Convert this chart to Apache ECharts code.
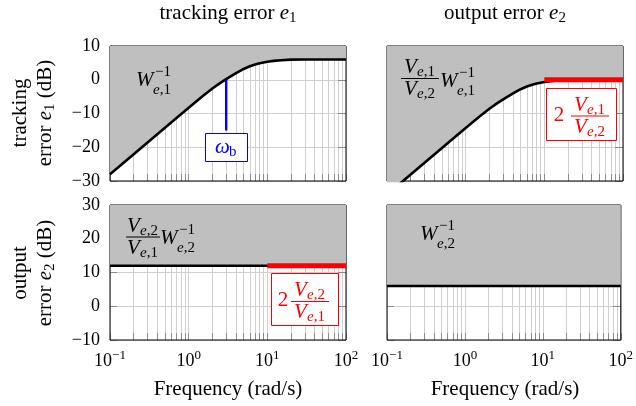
<!DOCTYPE html>
<html>
<head>
<meta charset="utf-8">
<script src="https://cdn.jsdelivr.net/npm/echarts@6/dist/echarts.min.js"></script>
<style>
  html, body { margin: 0; padding: 0; background: #fff; }
  #chart { width: 636px; height: 406px; }
</style>
</head>
<body>
<div id="chart"></div>
<script>
// frequency samples (rad/s)
const FREQ = [0.1, 0.2, 0.3, 0.5, 0.7, 1, 1.5, 2, 2.5, 3, 3.5, 4, 5, 6, 7, 8, 10, 12, 15, 20, 30, 50, 100];
// W_e,1^-1 (dB), top left
const W1_DB = [-28, -22.1, -18.6, -14.2, -11.3, -8.3, -4.9, -2.6, -1.0, 0.2, 1.15, 1.95, 3.2, 4.0, 4.5, 4.9, 5.35, 5.6, 5.8, 5.95, 6, 6, 6];
// Ve1/Ve2 * W_e,1^-1 (dB), top right
const W1_SCALED_DB = [-34, -28.1, -24.6, -20.2, -17.3, -14.3, -10.9, -8.6, -7.0, -5.8, -4.85, -4.05, -2.8, -2.0, -1.5, -1.1, -0.65, -0.4, -0.2, -0.05, 0, 0, 0];
// flat weights, bottom row
const FLAT_FREQ = [0.1, 100];
const W2_SCALED_DB = [12, 12];
const W2_DB = [6, 6];
// red limits 2*Ve1/Ve2 and 2*Ve2/Ve1
const RED_FREQ = [10, 100];
const RED_TOP_DB = [0, 0];
const RED_BOTTOM_DB = [12, 12];
// omega_b marker
const WB_FREQ = [3.0, 3.0];
const WB_DB = [0, -15];

const MINOR = [0.2, 0.3, 0.4, 0.5, 0.6, 0.7, 0.8, 0.9, 2, 3, 4, 5, 6, 7, 8, 9, 20, 30, 40, 50, 60, 70, 80, 90];

const FONT = '"Liberation Serif", "DejaVu Serif", serif';
const FS = 21;      // titles, names, math
const TICK_FS = 18; // tick labels
const SUB_FS = 15;
const GRAY = '#bfbfbf';
const GRID_C = '#cfcfcf';
const TICK_C = '#8c8c8c';

const grids = [
  { left: 110, top: 46, width: 236, height: 135 },
  { left: 387, top: 46, width: 236, height: 135 },
  { left: 110, top: 205, width: 236, height: 135 },
  { left: 387, top: 205, width: 236, height: 135 }
];
const yRanges = [[-30, 10], [-30, 10], [-10, 30], [-10, 30]];

function pairs(xs, ys) {
  return xs.map((x, i) => [x, ys[i]]);
}

function powLabel(v) {
  const e = Math.round(Math.log10(v));
  return '{b|10}{s|' + (e < 0 ? '−' + (-e) : e) + '}';
}

let xAxes = [];
let yAxes = [];
grids.forEach((g, i) => {
  xAxes.push({
    type: 'log', logBase: 10, min: 0.1, max: 100, gridIndex: i, position: 'bottom', z: 0,
    axisLine: { show: false, onZero: false },
    axisTick: { show: true, inside: true, length: 7, lineStyle: { color: TICK_C } },
    splitLine: { show: true, lineStyle: { color: GRID_C, width: 1, type: 'solid' } },
    axisLabel: {
      show: i >= 2, margin: 9, formatter: powLabel,
      rich: {
        b: { fontFamily: FONT, fontSize: TICK_FS, color: '#000', lineHeight: 24 },
        s: { fontFamily: FONT, fontSize: 13, color: '#000', lineHeight: 12, verticalAlign: 'top' }
      }
    }
  });
  xAxes.push({
    type: 'log', logBase: 10, min: 0.1, max: 100, gridIndex: i, position: 'bottom', z: 0,
    axisLine: { show: false, onZero: false },
    axisLabel: { show: false },
    axisTick: { show: true, inside: true, length: 7, customValues: MINOR, lineStyle: { color: TICK_C } },
    splitLine: { show: true, lineStyle: { color: GRID_C, width: 1, type: 'solid' } }
  });
  const r = yRanges[i];
  yAxes.push({
    type: 'value', gridIndex: i, min: r[0], max: r[1], interval: 10, position: 'left', z: 0,
    axisLine: { show: false, onZero: false },
    axisTick: { show: true, inside: true, length: 7, lineStyle: { color: TICK_C } },
    splitLine: { show: true, lineStyle: { color: GRID_C, width: 1, type: 'solid' } },
    axisLabel: {
      show: i % 2 === 0, margin: 10, fontFamily: FONT, fontSize: TICK_FS, color: '#000',
      formatter: v => (v < 0 ? '−' + (-v) : '' + v)
    }
  });
  yAxes.push({
    type: 'value', gridIndex: i, min: r[0], max: r[1], interval: 10, position: 'right', z: 0,
    axisLine: { show: false, onZero: false },
    axisTick: { show: true, inside: true, length: 8, lineStyle: { color: TICK_C } },
    splitLine: { show: false },
    axisLabel: { show: false }
  });
});

function boundSeries(i, data) {
  return {
    type: 'line', xAxisIndex: 2 * i, yAxisIndex: 2 * i, data: data,
    smooth: false, symbol: 'none', z: 3,
    lineStyle: { color: '#000', width: 2.6, join: 'round' },
    areaStyle: { origin: 'end', color: GRAY, opacity: 1 }
  };
}
function markSeries(i, data, color, width) {
  return {
    type: 'line', xAxisIndex: 2 * i, yAxisIndex: 2 * i, data: data,
    symbol: 'none', z: 4, lineStyle: { color: color, width: width }
  };
}

// ---- text helpers (graphic) ----
function T(x, y, text, o) {
  return {
    type: 'text', x: x, y: y, z: 100,
    style: Object.assign({
      text: text, fontFamily: FONT, fontSize: FS, fill: '#000',
      align: 'center', verticalAlign: 'middle'
    }, o || {})
  };
}
function subText(x, y, sub, color) {
  // "e,1" : italic e, roman ",1"
  return T(x, y, '{i|e}{r|,' + sub + '}', {
    align: 'left', fontSize: SUB_FS, fill: color,
    rich: {
      i: { fontFamily: FONT, fontSize: SUB_FS, fontStyle: 'italic', fill: color },
      r: { fontFamily: FONT, fontSize: SUB_FS, fill: color }
    }
  });
}
function Winv(x, yc, sub, color) {
  color = color || '#000';
  return [
    T(x, yc, 'W', { align: 'left', fontStyle: 'italic', fill: color }),
    T(x + 19, yc - 8, '−1', { align: 'left', fontSize: SUB_FS, fill: color }),
    subText(x + 17, yc + 10, sub, color)
  ];
}
function Vsub(xc, yc, sub, color) {
  return [
    T(xc - 16, yc, 'V', { align: 'left', fontStyle: 'italic', fill: color }),
    subText(xc - 3, yc + 5, sub, color)
  ];
}
function frac(x, yBar, w, n, d, color) {
  color = color || '#000';
  return [
    { type: 'line', z: 100, shape: { x1: x, y1: yBar, x2: x + w, y2: yBar }, style: { stroke: color, lineWidth: 1 } }
  ].concat(Vsub(x + w / 2, yBar - 11, n, color), Vsub(x + w / 2, yBar + 11, d, color));
}
function box(x, y, w, h, color) {
  return { type: 'rect', z: 99, shape: { x: x, y: y, width: w, height: h }, style: { fill: '#fff', stroke: color, lineWidth: 1 } };
}
function richLine(x, y, text, rot) {
  return {
    type: 'text', x: x, y: y, z: 100, rotation: rot || 0,
    style: {
      text: text, align: 'center', verticalAlign: 'middle',
      fontFamily: FONT, fontSize: FS, fill: '#000',
      rich: {
        n: { fontFamily: FONT, fontSize: FS, fill: '#000', lineHeight: 26 },
        i: { fontFamily: FONT, fontSize: FS, fontStyle: 'italic', fill: '#000', lineHeight: 26 },
        s: { fontFamily: FONT, fontSize: SUB_FS, fill: '#000', lineHeight: 15, verticalAlign: 'bottom' }
      }
    }
  };
}

const RED = '#ff0000';
const BLUE = '#0000ff';

let graphics = [].concat(
  // column titles
  richLine(228, 13, '{n|tracking error }{i|e}{s|1}'),
  richLine(505, 13, '{n|output error }{i|e}{s|2}'),
  // y names
  richLine(20, 113, '{n|tracking}', Math.PI / 2),
  richLine(45, 113, '{n|error }{i|e}{s|1}{n| (dB)}', Math.PI / 2),
  richLine(20, 273, '{n|output}', Math.PI / 2),
  richLine(45, 273, '{n|error }{i|e}{s|2}{n| (dB)}', Math.PI / 2),
  // x names
  richLine(228, 389, '{n|Frequency (rad/s)}'),
  richLine(505, 389, '{n|Frequency (rad/s)}'),
  // weight labels
  Winv(136, 80, '1'),
  frac(401, 78.5, 38, '1', '2'), Winv(440, 81, '1'),
  frac(126, 237, 34, '2', '1'), Winv(160, 238, '2'),
  Winv(420, 234, '2'),
  // omega_b box
  box(205.5, 133.5, 42, 28, BLUE),
  T(215, 147, 'ω', { align: 'left', fontStyle: 'italic', fill: BLUE }),
  T(229, 152, 'b', { align: 'left', fontSize: SUB_FS, fill: BLUE }),
  // red boxes
  box(546.5, 88.5, 70, 52, RED),
  T(559, 115, '2', { fill: RED }),
  frac(571, 116, 38, '1', '2', RED),
  box(271.5, 273.5, 67, 52, RED),
  T(283, 300, '2', { fill: RED }),
  frac(291, 301.5, 38, '2', '1', RED)
);

const option = {
  animation: false,
  backgroundColor: '#fff',
  grid: grids.map(g => Object.assign({ show: true, z: 1, borderColor: '#000', borderWidth: 1, backgroundColor: 'transparent' }, g)),
  xAxis: xAxes,
  yAxis: yAxes,
  series: [
    boundSeries(0, pairs(FREQ, W1_DB)),
    markSeries(0, pairs(WB_FREQ, WB_DB), BLUE, 2.4),
    boundSeries(1, pairs(FREQ, W1_SCALED_DB)),
    markSeries(1, pairs(RED_FREQ, RED_TOP_DB), RED, 5),
    boundSeries(2, pairs(FLAT_FREQ, W2_SCALED_DB)),
    markSeries(2, pairs(RED_FREQ, RED_BOTTOM_DB), RED, 5),
    boundSeries(3, pairs(FLAT_FREQ, W2_DB))
  ],
  graphic: graphics
};

const chart = echarts.init(document.getElementById('chart'), null, { renderer: 'canvas' });
chart.setOption(option);
</script>
</body>
</html>
